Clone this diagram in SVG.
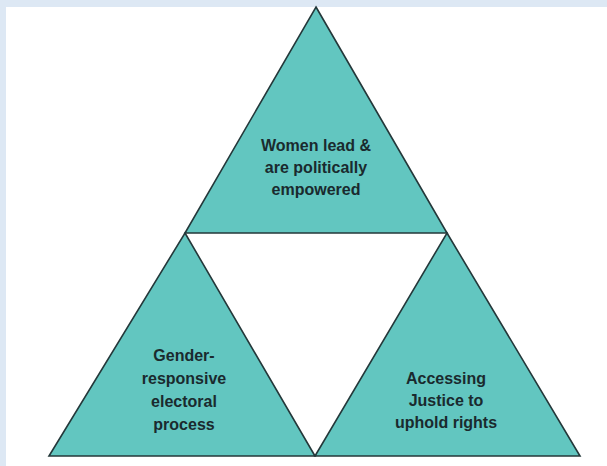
<svg xmlns="http://www.w3.org/2000/svg" width="607" height="466" viewBox="0 0 607 466">
<style>
.tri{fill:#62c6c0;stroke:#24383a;stroke-width:1.6;stroke-linejoin:miter}
.lbl{font-family:"Liberation Sans",Arial,sans-serif;font-weight:bold;font-size:16px;fill:#1a2a2e;text-anchor:middle}
</style>
<rect x="0" y="0" width="607" height="466" fill="#dde8f4"/>
<rect x="6" y="7" width="601" height="459" fill="#ffffff"/>
<g id="top">
<polygon class="tri" points="316,7 447,233 185,233"/>
<text class="lbl" x="316" y="151">Women lead &amp;</text>
<text class="lbl" x="316" y="173">are politically</text>
<text class="lbl" x="316" y="195">empowered</text>
</g>
<g id="left">
<polygon class="tri" points="185,233 315,456 49,456"/>
<text class="lbl" x="184" y="361">Gender-</text>
<text class="lbl" x="184" y="384">responsive</text>
<text class="lbl" x="184" y="407">electoral</text>
<text class="lbl" x="184" y="430">process</text>
</g>
<g id="right">
<polygon class="tri" points="447,233 580,456 315,456"/>
<text class="lbl" x="446" y="384">Accessing</text>
<text class="lbl" x="446" y="406">Justice to</text>
<text class="lbl" x="446" y="428">uphold rights</text>
</g>
<g id="connectors"></g>
</svg>
